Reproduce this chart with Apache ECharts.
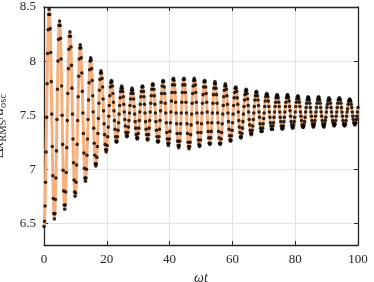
<!DOCTYPE html>
<html>
<head>
<meta charset="utf-8">
<script src="https://cdn.jsdelivr.net/npm/echarts@6/dist/echarts.min.js"></script>
<style>
  html, body { margin: 0; padding: 0; background: #fff; }
  #chart { width: 374px; height: 282px; }
</style>
</head>
<body>
<div id="chart"></div>
<script>
// samples of dx_RMS / a_osc, one row per oscillation, step of omega*t between samples
const sampleStep = 0.165;

// omega*t from 0 to ~33
const decay = [
  6.47, 6.52, 6.66, 6.88, 7.16, 7.48, 7.79, 8.07, 8.29, 8.43, 8.48, 8.43, 8.30, 8.08, 7.81, 7.51, 7.21, 6.94, 6.73, 6.59,
  6.54, 6.59, 6.72, 6.92, 7.17, 7.46, 7.74, 8.00, 8.20, 8.33, 8.37, 8.33, 8.21, 8.02, 7.77, 7.50, 7.23, 6.99, 6.80, 6.67,
  6.63, 6.67, 6.79, 6.97, 7.20, 7.45, 7.70, 7.93, 8.11, 8.23, 8.27, 8.23, 8.13, 7.96, 7.75, 7.51, 7.28, 7.06, 6.90, 6.79,
  6.75, 6.78, 6.88, 7.04, 7.23, 7.45, 7.67, 7.86, 8.02, 8.12, 8.15, 8.12, 8.03, 7.89, 7.72, 7.52, 7.33, 7.15, 7.01, 6.92,
  6.89, 6.92, 7.00, 7.13, 7.28, 7.46, 7.64, 7.80, 7.92, 8.00, 8.03, 8.01, 7.93, 7.82, 7.68, 7.53, 7.38, 7.24, 7.13, 7.05,
  7.03, 7.05, 7.11, 7.21, 7.33, 7.47, 7.61, 7.73, 7.83, 7.89, 7.91, 7.89, 7.84, 7.76, 7.65, 7.54, 7.42, 7.32, 7.23, 7.18,
  7.16, 7.18, 7.22, 7.30, 7.39, 7.49, 7.59, 7.68, 7.76, 7.80, 7.82, 7.81, 7.77, 7.70, 7.62, 7.54, 7.45, 7.37, 7.30, 7.26,
  7.25, 7.26, 7.30, 7.36, 7.43, 7.51, 7.59, 7.66, 7.72, 7.75, 7.77, 7.75, 7.72, 7.67, 7.60, 7.53, 7.46, 7.40, 7.34, 7.31,
  7.30, 7.31, 7.34, 7.39, 7.45, 7.52, 7.59, 7.65, 7.70, 7.73, 7.75, 7.73, 7.70, 7.65, 7.58, 7.51, 7.44, 7.38, 7.32, 7.29,
  7.28, 7.29, 7.33, 7.38, 7.45, 7.53, 7.60, 7.67, 7.72, 7.76, 7.77, 7.76, 7.72, 7.67, 7.60, 7.52, 7.44, 7.37, 7.32, 7.28
];

// omega*t from ~33 to ~66
const beat = [
  7.27, 7.28, 7.32, 7.38, 7.45, 7.53, 7.61, 7.68, 7.74, 7.78, 7.79, 7.78, 7.74, 7.68, 7.60, 7.52, 7.44, 7.36, 7.30, 7.26,
  7.25, 7.26, 7.30, 7.37, 7.45, 7.54, 7.62, 7.70, 7.77, 7.81, 7.82, 7.81, 7.76, 7.70, 7.61, 7.52, 7.43, 7.34, 7.28, 7.24,
  7.22, 7.24, 7.28, 7.35, 7.43, 7.53, 7.63, 7.71, 7.78, 7.83, 7.84, 7.82, 7.78, 7.71, 7.62, 7.52, 7.42, 7.33, 7.26, 7.22,
  7.20, 7.22, 7.26, 7.33, 7.42, 7.52, 7.62, 7.71, 7.78, 7.83, 7.84, 7.83, 7.78, 7.71, 7.62, 7.52, 7.42, 7.33, 7.25, 7.21,
  7.19, 7.21, 7.25, 7.32, 7.41, 7.51, 7.61, 7.70, 7.77, 7.82, 7.84, 7.82, 7.78, 7.71, 7.62, 7.52, 7.43, 7.34, 7.27, 7.23,
  7.21, 7.22, 7.27, 7.34, 7.42, 7.52, 7.61, 7.69, 7.76, 7.81, 7.82, 7.81, 7.76, 7.70, 7.62, 7.53, 7.43, 7.35, 7.29, 7.24,
  7.23, 7.24, 7.29, 7.35, 7.43, 7.52, 7.61, 7.69, 7.75, 7.79, 7.81, 7.79, 7.75, 7.69, 7.61, 7.52, 7.43, 7.35, 7.29, 7.24,
  7.23, 7.24, 7.28, 7.34, 7.42, 7.51, 7.59, 7.67, 7.73, 7.77, 7.79, 7.77, 7.74, 7.68, 7.60, 7.52, 7.44, 7.37, 7.31, 7.27,
  7.26, 7.27, 7.31, 7.36, 7.43, 7.51, 7.59, 7.66, 7.71, 7.75, 7.76, 7.75, 7.72, 7.66, 7.60, 7.53, 7.45, 7.39, 7.34, 7.30,
  7.29, 7.30, 7.33, 7.38, 7.44, 7.51, 7.58, 7.64, 7.69, 7.72, 7.74, 7.73, 7.70, 7.65, 7.59, 7.53, 7.46, 7.41, 7.36, 7.33
];

// omega*t from ~66 to 100
const tail = [
  7.32, 7.33, 7.36, 7.40, 7.46, 7.52, 7.58, 7.64, 7.68, 7.71, 7.72, 7.71, 7.68, 7.64, 7.59, 7.53, 7.48, 7.42, 7.38, 7.35,
  7.35, 7.35, 7.38, 7.42, 7.47, 7.52, 7.58, 7.63, 7.67, 7.69, 7.70, 7.69, 7.67, 7.63, 7.58, 7.53, 7.48, 7.43, 7.40, 7.37,
  7.37, 7.37, 7.40, 7.43, 7.48, 7.53, 7.58, 7.62, 7.66, 7.68, 7.69, 7.68, 7.66, 7.62, 7.58, 7.53, 7.48, 7.44, 7.40, 7.38,
  7.37, 7.38, 7.40, 7.44, 7.48, 7.53, 7.58, 7.62, 7.66, 7.68, 7.69, 7.68, 7.66, 7.63, 7.58, 7.54, 7.49, 7.44, 7.41, 7.39,
  7.38, 7.39, 7.41, 7.44, 7.48, 7.53, 7.58, 7.62, 7.65, 7.67, 7.68, 7.67, 7.65, 7.62, 7.58, 7.53, 7.49, 7.45, 7.41, 7.39,
  7.39, 7.39, 7.41, 7.44, 7.48, 7.53, 7.57, 7.61, 7.64, 7.66, 7.67, 7.66, 7.64, 7.61, 7.57, 7.53, 7.49, 7.45, 7.42, 7.40,
  7.39, 7.40, 7.42, 7.45, 7.49, 7.53, 7.57, 7.61, 7.64, 7.66, 7.67, 7.66, 7.64, 7.61, 7.57, 7.53, 7.49, 7.45, 7.42, 7.40,
  7.39, 7.40, 7.42, 7.45, 7.48, 7.53, 7.57, 7.60, 7.63, 7.65, 7.66, 7.65, 7.64, 7.61, 7.57, 7.53, 7.49, 7.45, 7.43, 7.41,
  7.40, 7.41, 7.42, 7.45, 7.49, 7.53, 7.57, 7.61, 7.64, 7.65, 7.66, 7.65, 7.64, 7.61, 7.57, 7.53, 7.49, 7.45, 7.42, 7.41,
  7.40, 7.41, 7.42, 7.45, 7.49, 7.53, 7.56, 7.60, 7.63, 7.64, 7.65, 7.64, 7.63, 7.60, 7.57, 7.53, 7.49, 7.46, 7.43, 7.42,
  7.41, 7.42, 7.43, 7.46, 7.49, 7.53, 7.57
];

const xTicks = [0, 20, 40, 60, 80, 100];
const yTicks = [6.5, 7, 7.5, 8, 8.5];

const points = decay.concat(beat, tail).map((v, i) => [i * sampleStep, v]);

const ink = '#262626';
const serif = '"Liberation Serif", "DejaVu Serif", serif';

const chart = echarts.init(document.getElementById('chart'));

const frameAxis = {
  axisLine: { show: true, onZero: false, lineStyle: { color: ink, width: 1.3 } },
  axisTick: { show: true, inside: true, length: 4, lineStyle: { color: ink, width: 1 } },
};

chart.setOption({
  animation: false,
  backgroundColor: '#fff',
  grid: { left: 44, right: 16, top: 7, bottom: 37, outerBoundsMode: 'none' },
  xAxis: [
    {
      type: 'value', min: 0, max: 100, position: 'bottom',
      ...frameAxis,
      axisTick: { ...frameAxis.axisTick, customValues: xTicks },
      axisLabel: { margin: 8, color: ink, fontFamily: serif, fontSize: 13, customValues: xTicks },
      splitLine: { show: true, lineStyle: { color: '#e2e2e2', width: 1 } },
      name: 'ωt', nameLocation: 'middle', nameGap: 23,
      nameTextStyle: { color: ink, fontFamily: serif, fontStyle: 'italic', fontSize: 14 },
    },
    {
      type: 'value', min: 0, max: 100, position: 'top',
      ...frameAxis,
      axisTick: { ...frameAxis.axisTick, customValues: xTicks },
      axisLabel: { show: false },
      splitLine: { show: false },
    },
  ],
  yAxis: [
    {
      type: 'value', min: 6.3, max: 8.5, position: 'left',
      axisLine: frameAxis.axisLine,
      axisTick: { ...frameAxis.axisTick, customValues: yTicks },
      axisLabel: { margin: 8, color: ink, fontFamily: serif, fontSize: 13, customValues: yTicks },
      splitLine: { show: true, lineStyle: { color: '#e2e2e2', width: 1 } },
      name: '{u|Δ}{i|x}{s|RMS}{u|/}{i|a}{s|osc}',
      nameLocation: 'middle', nameRotate: 90, nameGap: 30,
      nameTextStyle: {
        color: ink,
        rich: {
          u: { fontFamily: serif, fontSize: 15, color: ink, lineHeight: 20 },
          i: { fontFamily: serif, fontSize: 15, fontStyle: 'italic', color: ink, lineHeight: 20 },
          s: { fontFamily: serif, fontSize: 10.5, color: ink, verticalAlign: 'bottom', lineHeight: 20 },
        },
      },
    },
    {
      type: 'value', min: 6.3, max: 8.5, position: 'right',
      axisLine: frameAxis.axisLine,
      axisTick: { ...frameAxis.axisTick, customValues: yTicks },
      axisLabel: { show: false },
      splitLine: { show: false },
    },
  ],
  series: [
    {
      type: 'line',
      data: points,
      showSymbol: false,
      lineStyle: { color: '#f7b07c', width: 3 },
      z: 2,
    },
    {
      type: 'scatter',
      data: points,
      symbolSize: 3.6,
      itemStyle: { color: '#000' },
      z: 3,
    },
  ],
});
</script>
</body>
</html>
